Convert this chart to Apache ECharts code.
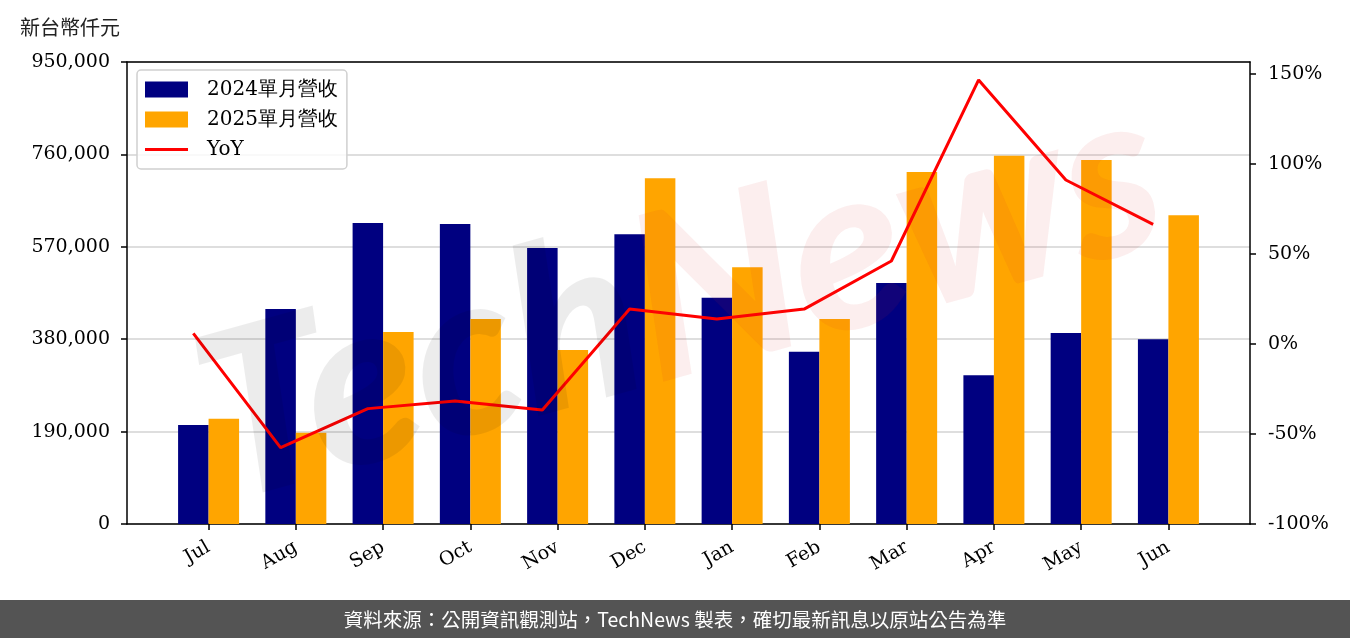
<!DOCTYPE html>
<html>
<head>
<meta charset="utf-8">
<script src="https://cdn.jsdelivr.net/npm/echarts@6/dist/echarts.min.js"></script>
<style>
html,body{margin:0;padding:0;background:#fff;}
#chart{width:1350px;height:638px;}
</style>
</head>
<body>
<div id="chart"></div>
<script>
const months = ['Jul','Aug','Sep','Oct','Nov','Dec','Jan','Feb','Mar','Apr','May','Jun'];
const rev2024 = [203600, 442000, 619000, 617000, 567500, 596000, 465000, 354000, 495600, 306000, 393000, 380000];
const rev2025 = [216500, 187700, 394800, 421500, 358000, 711000, 528000, 421500, 724000, 757000, 748500, 635000];
const yoy = [5.9, -57.6, -35.9, -31.7, -36.7, 19.4, 13.9, 19.4, 46.1, 146.7, 91.1, 66.5];
const leftTicks = [0, 190000, 380000, 570000, 760000, 950000];
const rightTicks = [-100, -50, 0, 50, 100, 150];
const legendNames = ['2024單月營收', '2025單月營收', 'YoY'];

const idx = months.map((m, i) => i);
const serif = 'DejaVu Serif';
const chart = echarts.init(document.getElementById('chart'), null, {renderer: 'canvas'});
const BW = 30.5;
const axisLineStyle = {color: '#000', width: 1.5};
const lineIcon = 'path://M0,0 L0.01,0 L0.01,0.01 Z M0,6.5 L43,6.5 L43,9.5 L0,9.5 Z M42.99,16 L43,16 L43,15.99 Z';
chart.setOption({
  animation: false,
  backgroundColor: '#fff',
  grid: {left: 127, right: 100, top: 62, bottom: 114},
  legend: {
    orient: 'vertical', left: 137, top: 70,
    data: [
      {name: legendNames[0], icon: 'rect'},
      {name: legendNames[1], icon: 'rect'},
      {name: legendNames[2], icon: lineIcon}
    ],
    itemWidth: 43, itemHeight: 16, itemGap: 9,
    padding: [9, 9, 9, 8],
    borderColor: '#d0d0d0', borderWidth: 1.5, borderRadius: 4,
    backgroundColor: 'rgba(255,255,255,0.8)',
    textStyle: {fontFamily: serif, fontSize: 20, color: '#000', padding: [0, 0, 0, 14], lineHeight: 21}
  },
  xAxis: [
    {
      type: 'value', min: -0.935, max: 11.935, position: 'bottom',
      axisLine: {show: true, onZero: false, lineStyle: axisLineStyle},
      splitLine: {show: false},
      axisTick: {show: true, customValues: idx, length: 6, lineStyle: axisLineStyle},
      axisLabel: {customValues: idx, rotate: 30, margin: 22, fontFamily: serif, fontSize: 19, color: '#000',
        formatter: v => months[Math.round(v)]}
    },
    {
      type: 'value', min: -0.935, max: 11.935, position: 'top',
      axisLine: {show: true, onZero: false, lineStyle: axisLineStyle},
      splitLine: {show: false}, axisTick: {show: false}, axisLabel: {show: false}
    }
  ],
  yAxis: [
    {
      type: 'value', min: 0, max: 950000, interval: 190000, position: 'left',
      axisLine: {show: true, onZero: false, lineStyle: axisLineStyle},
      axisTick: {show: true, length: 6, lineStyle: axisLineStyle},
      splitLine: {show: true, lineStyle: {color: '#d3d3d3', width: 1.5}},
      axisLabel: {margin: 17, fontFamily: serif, fontSize: 19, color: '#000',
        formatter: v => v.toLocaleString('en-US')}
    },
    {
      type: 'value', min: -100, max: -100 + 462 / 1.8, position: 'right',
      axisLine: {show: true, onZero: false, lineStyle: axisLineStyle},
      splitLine: {show: false},
      axisTick: {show: true, customValues: rightTicks, length: 6, lineStyle: axisLineStyle},
      axisLabel: {customValues: rightTicks, margin: 18, fontFamily: serif, fontSize: 19, color: '#000',
        formatter: v => v + '%'}
    }
  ],
  series: [
    {name: legendNames[0], type: 'bar', xAxisIndex: 0, yAxisIndex: 0, barWidth: BW, barGap: 0,
      itemStyle: {color: '#000080'}, data: rev2024.map((v, i) => [i, v])},
    {name: legendNames[1], type: 'bar', xAxisIndex: 0, yAxisIndex: 0, barWidth: BW, barGap: 0,
      itemStyle: {color: '#FFA500'}, data: rev2025.map((v, i) => [i, v])},
    {name: legendNames[2], type: 'line', xAxisIndex: 0, yAxisIndex: 1, symbol: 'none',
      lineStyle: {color: '#FF0000', width: 3}, itemStyle: {color: '#FF0000'}, z: 5,
      data: yoy.map((v, i) => [i - 0.175, v])}
  ],
  graphic: [
    {type: 'text', left: 20, top: 17, style: {text: '新台幣仟元', font: '20px "Noto Sans CJK TC"', fill: '#222'}},
    {type: 'rect', left: 0, top: 600, shape: {width: 1350, height: 38}, style: {fill: '#545454'}},
    {type: 'text', x: 675, y: 620, style: {text: '資料來源：公開資訊觀測站，TechNews 製表，確切最新訊息以原站公告為準',
      font: '19.5px "Noto Sans CJK TC"', fill: '#fff', align: 'center', verticalAlign: 'middle'}},
    {type: 'text', x: 680, y: 300, rotation: 0.27, z: 100, silent: true,
      style: {text: '{a|Tech}{b|News}', align: 'center', verticalAlign: 'middle',
        rich: {
          a: {font: 'italic 900 230px Lato', fill: 'rgba(0,0,0,0.075)'},
          b: {font: 'italic 900 230px Lato', fill: 'rgba(220,40,40,0.08)'}
        }}}
  ]
});
</script>
</body>
</html>
